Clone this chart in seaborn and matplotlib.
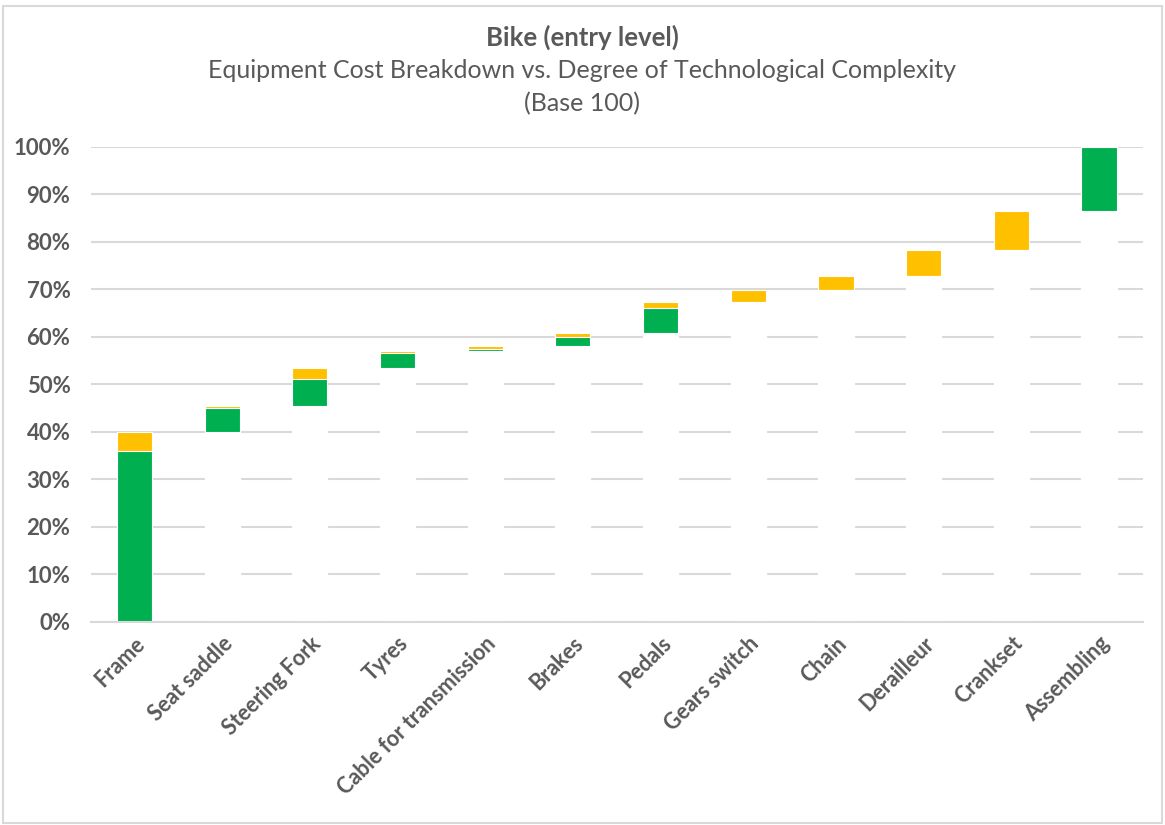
import numpy as np
import pandas as pd
import matplotlib
matplotlib.use("Agg")
import matplotlib.pyplot as plt
from matplotlib.patches import Rectangle
from matplotlib.ticker import FuncFormatter
import seaborn as sns

# Components, ordered by increasing technological complexity
components = ["Frame", "Seat saddle", "Steering Fork", "Tyres",
              "Cable for transmission", "Brakes", "Pedals", "Gears switch",
              "Chain", "Derailleur", "Crankset", "Assembling"]

# Cost share (% of total, base 100) split into two parts per component
green_share = [36.0, 5.0, 5.6, 3.1, 0.5, 2.0, 5.3, 0.0, 0.0, 0.0, 0.0, 13.5]
yellow_share = [4.0, 0.4, 2.5, 0.4, 0.5, 0.7, 1.3, 2.6, 2.9, 5.5, 8.1, 0.0]

ytick_values = [0, 10, 20, 30, 40, 50, 60, 70, 80, 90, 100]

GREEN = "#00B050"
YELLOW = "#FFC000"
TEXT = "#595959"
GRID = "#D9D9D9"

green = np.array(green_share)
yellow = np.array(yellow_share)
step = green + yellow
top = np.cumsum(step)
base = top - step

df = pd.DataFrame({
    "component": components,
    "base": base,
    "green_top": base + green,
    "top": top,
})

sns.set_theme(style="white")
plt.rcParams["font.family"] = ["Lato", "DejaVu Sans"]

fig = plt.figure(figsize=(11.65, 8.25), dpi=100)
ax = fig.add_axes([0.0778, 0.2464, 0.9032, 0.5758])

bar_kw = dict(x="component", width=0.4, saturation=1,
              edgecolor="white", linewidth=0.8, ax=ax, order=components)
# Waterfall built from overlapping bars: full height, green part, hidden base
sns.barplot(data=df, y="top", color=YELLOW, **bar_kw)
sns.barplot(data=df, y="green_top", color=GREEN, **bar_kw)
sns.barplot(data=df, y="base", color="white", **bar_kw)

ax.set_ylim(0, 100)
ax.set_xlim(-0.5, len(components) - 0.5)
ax.set_yticks(ytick_values)
ax.yaxis.set_major_formatter(FuncFormatter(lambda v, _: f"{v:.0f}%"))
ax.set_axisbelow(True)
ax.yaxis.grid(True, color=GRID, linewidth=1.5)
ax.xaxis.grid(False)

for side in ("left", "right", "top"):
    ax.spines[side].set_visible(False)
ax.spines["bottom"].set_color(GRID)
ax.spines["bottom"].set_linewidth(1.5)
ax.spines["bottom"].set_zorder(5)

ax.set_xlabel("")
ax.set_ylabel("")
ax.tick_params(axis="both", length=0)
ax.tick_params(axis="y", pad=14.5)
ax.tick_params(axis="x", pad=8)
for lab in ax.get_yticklabels():
    lab.set_fontsize(16)
    lab.set_fontweight("bold")
    lab.set_color(TEXT)
ax.set_xticks(range(len(components)))
ax.set_xticklabels(components, rotation=45, ha="right",
                   rotation_mode="anchor", fontsize=15.5,
                   fontweight="bold", color=TEXT)

fig.text(0.5, 0.955, "Bike (entry level)", ha="center", va="center",
         fontsize=18.5, fontweight="bold", color=TEXT)
fig.text(0.5, 0.915,
         "Equipment Cost Breakdown vs. Degree of Technological Complexity",
         ha="center", va="center", fontsize=18, color=TEXT)
fig.text(0.5, 0.874, "(Base 100)", ha="center", va="center",
         fontsize=18, color=TEXT)

# Light frame around the chart area
fig.patches.append(Rectangle((0.003, 0.003), 0.994, 0.99,
                             transform=fig.transFigure, fill=False,
                             edgecolor=GRID, linewidth=1.5))

fig.savefig("out.png", dpi=100, facecolor="white")
